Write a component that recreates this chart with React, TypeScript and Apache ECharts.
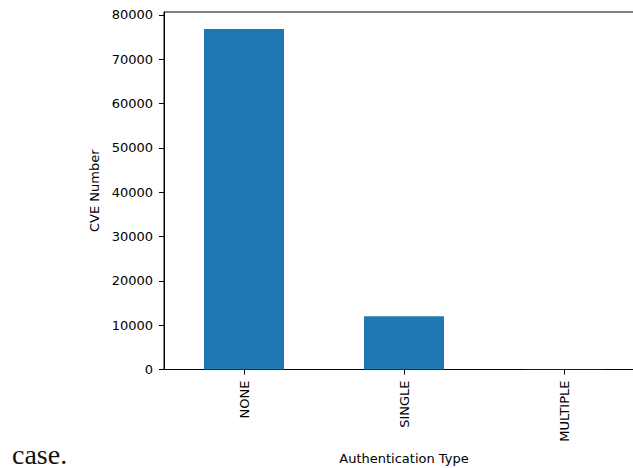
import React, { useEffect, useRef } from "react";
import * as echarts from "echarts";

const categories = ["NONE", "SINGLE", "MULTIPLE"];
const cveCounts = [76800, 12000, 30];
const yTicks = [0, 10000, 20000, 30000, 40000, 50000, 60000, 70000, 80000];
const yMax = 80640;

export default function App() {
  const ref = useRef<HTMLDivElement>(null);
  useEffect(() => {
    if (!ref.current) return;
    const chart = echarts.init(ref.current, undefined, { renderer: "svg" });
    const font = "DejaVu Sans";
    chart.setOption({
      animation: false,
      backgroundColor: "#ffffff",
      grid: {
        left: 164,
        top: 12,
        width: 480,
        height: 357.5,
        show: true,
        borderColor: "#000",
        borderWidth: 1,
        containLabel: false,
        outerBoundsMode: "none",
      },
      xAxis: {
        type: "category",
        data: categories,
        boundaryGap: true,
        name: "Authentication Type",
        nameLocation: "middle",
        nameGap: 82,
        nameTextStyle: { fontFamily: font, fontSize: 13, color: "#000" },
        axisLine: { show: true, lineStyle: { color: "#000", width: 1 } },
        axisTick: { show: true, alignWithLabel: true, length: 5, lineStyle: { color: "#000" } },
        axisLabel: {
          rotate: 90,
          margin: 11,
          fontFamily: font,
          fontSize: 13,
          color: "#000",
          interval: 0,
        },
        splitLine: { show: false },
      },
      yAxis: {
        type: "value",
        min: 0,
        max: yMax,
        interval: 10000,
        name: "CVE Number",
        nameLocation: "middle",
        nameGap: 56,
        nameRotate: 90,
        nameTextStyle: { fontFamily: font, fontSize: 13, color: "#000" },
        axisLine: { show: true, lineStyle: { color: "#000", width: 1 } },
        axisTick: {
          show: true,
          length: 5,
          lineStyle: { color: "#000" },
          customValues: yTicks,
        },
        axisLabel: {
          margin: 11,
          fontFamily: font,
          fontSize: 13,
          color: "#000",
          customValues: yTicks,
          formatter: (v: number) => (v % 10000 === 0 ? String(v) : ""),
        },
        splitLine: { show: false },
      },
      series: [
        {
          type: "bar",
          data: cveCounts,
          barWidth: 80,
          itemStyle: { color: "#1f77b4" },
        },
      ],
      graphic: [
        {
          type: "text",
          left: 12,
          top: 440,
          style: {
            text: "case.",
            fontFamily: "Liberation Serif",
            fontSize: 28,
            lineHeight: 28,
            fill: "#111",
          },
        },
      ],
    });
    return () => chart.dispose();
  }, []);
  return (
    <div
      ref={ref}
      style={{ position: "fixed", left: 0, top: 0, width: 633, height: 468, overflow: "hidden" }}
    />
  );
}
